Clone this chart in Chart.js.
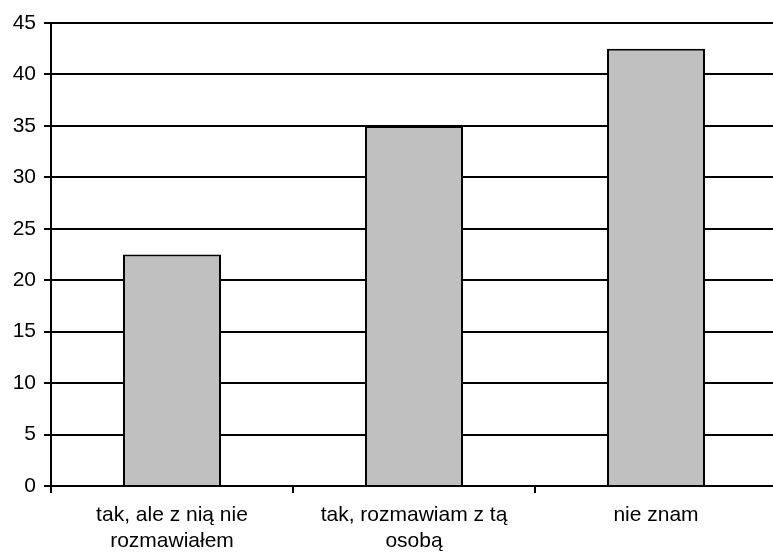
<!DOCTYPE html>
<html>
<head>
<meta charset="utf-8">
<script src="https://cdn.jsdelivr.net/npm/chart.js@4"></script>
<style>
	body { margin: 0; overflow: hidden; background: #fff; }
	#wrap { width: 790px; height: 554px; }
</style>
</head>
<body>
<div id="wrap"><canvas id="answersChart"></canvas></div>

<script type="text/javascript">

var categories = [["tak, ale z nią nie", "rozmawiałem"], ["tak, rozmawiam z tą", "osobą"], "nie znam"];
var values = [22.5, 35, 42.5];
var yTicks = [0, 5, 10, 15, 20, 25, 30, 35, 40, 45];

var font = { family: "'Liberation Sans', Arial, sans-serif", size: 21, lineHeight: 1.2 };

var ctx = document.getElementById("answersChart").getContext('2d');
var myChart = new Chart(ctx, {
	type: 'bar',
	data: {
		labels: categories,
		datasets: [{
			data: values,
			backgroundColor: '#c0c0c0',
			borderColor: '#000',
			borderWidth: 2,
			barPercentage: 0.405,
			categoryPercentage: 1
		}]
	},
	options: {
		responsive: true,
		maintainAspectRatio: false,
		animation: false,
		layout: { padding: { top: 23, right: 13, left: 0, bottom: 0 } },
		plugins: {
			legend: { display: false },
			tooltip: { enabled: false }
		},
		scales: {
			x: {
				grid: { drawOnChartArea: false, color: '#000', lineWidth: 2, tickLength: 7, offset: true },
				border: { color: '#000', width: 2 },
				ticks: { color: '#000', font: font, padding: 10, maxRotation: 0, autoSkip: false },
				afterFit: function(axis) { axis.height = 68; }
			},
			y: {
				min: 0,
				max: 45,
				afterBuildTicks: function(axis) {
					axis.ticks = yTicks.map(function(v) { return { value: v }; });
				},
				grid: { color: '#000', lineWidth: 2, tickLength: 7 },
				border: { color: '#000', width: 2 },
				ticks: { color: '#000', font: font, padding: 8 },
				afterFit: function(axis) { axis.width = 51; }
			}
		}
	}
});
</script>
</body>
</html>
